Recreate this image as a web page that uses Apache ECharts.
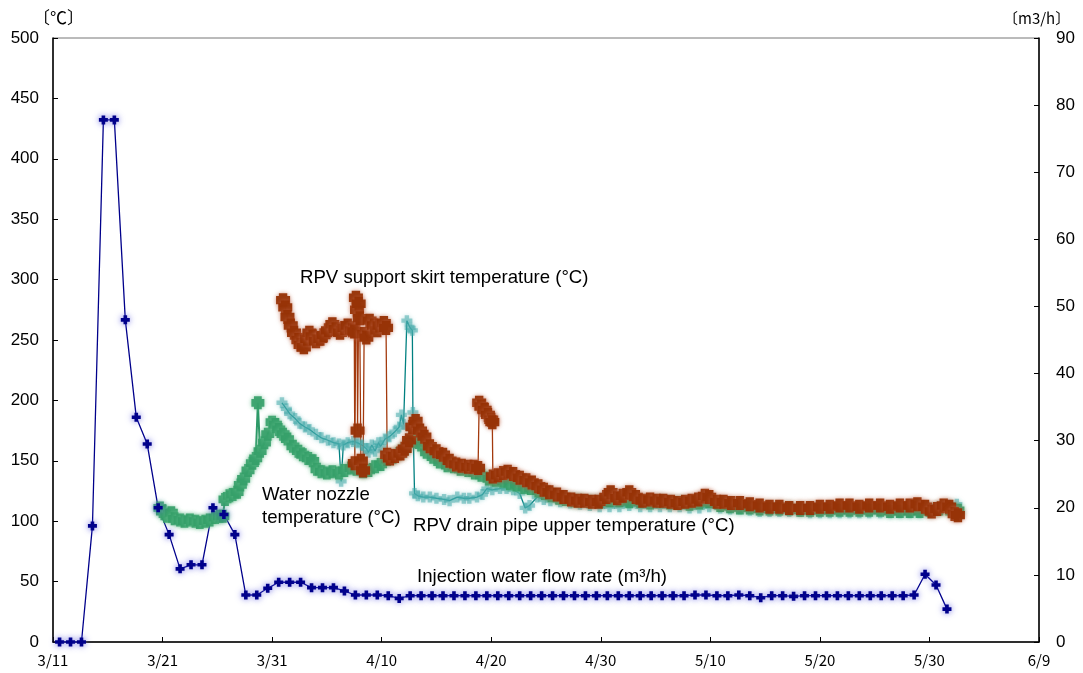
<!DOCTYPE html>
<html>
<head>
<meta charset="utf-8">
<script src="https://cdn.jsdelivr.net/npm/echarts@6/dist/echarts.min.js"></script>
<style>
html,body{margin:0;padding:0;background:#fff;}
#chart{width:1083px;height:673px;}
</style>
</head>
<body>
<div id="chart"></div>
<script>
// x values are days after 3/11 (0 = 3/11)
const xTickLabels = ['3/11','3/21','3/31','4/10','4/20','4/30','5/10','5/20','5/30','6/9'];

// Injection water flow rate (m3/h) - one reading per day
const flowDays = [0.6,1.6,2.6,3.6,4.6,5.6,6.6,7.6,8.6,9.6,10.6,11.6,12.6,13.6,14.6,15.6,16.6,17.6,18.6,19.6,20.6,21.6,22.6,23.6,24.6,25.6,26.6,27.6,28.6,29.6,30.6,31.6,32.6,33.6,34.6,35.6,36.6,37.6,38.6,39.6,40.6,41.6,42.6,43.6,44.6,45.6,46.6,47.6,48.6,49.6,50.6,51.6,52.6,53.6,54.6,55.6,56.6,57.6,58.6,59.6,60.6,61.6,62.6,63.6,64.6,65.6,66.6,67.6,68.6,69.6,70.6,71.6,72.6,73.6,74.6,75.6,76.6,77.6,78.6,79.6,80.6,81.6];
const flowRate = [0,0,0,17.3,77.8,77.8,48.0,33.5,29.5,20.0,16.0,10.9,11.5,11.5,20.0,19.0,16.0,7.0,7.0,8.0,8.9,8.9,8.9,8.1,8.1,8.1,7.6,7.0,7.0,7.0,6.9,6.5,6.9,6.9,6.9,6.9,6.9,6.9,6.9,6.9,6.9,6.9,6.9,6.9,6.9,6.9,6.9,6.9,6.9,6.9,6.9,6.9,6.9,6.9,6.9,6.9,6.9,6.9,7.0,7.0,6.9,6.9,7.0,6.9,6.6,6.9,6.9,6.8,6.9,6.9,6.9,6.9,6.9,6.9,6.9,6.9,6.9,6.9,7.0,10.1,8.5,4.9];

// Water nozzle temperature (°C)
const nozzleDays = [9.76,10.0,10.4,10.8,11.1,11.6,12.0,12.5,13.0,13.4,13.9,14.3,14.8,15.2,15.5,15.7,16.1,16.4,16.8,17.1,17.4,17.8,18.2,18.5,18.7,18.9,19.3,19.6,20.0,20.3,20.6,21.0,21.4,21.9,22.4,22.8,23.3,23.7,24.1,24.5,25.0,25.5,26.1,26.6,27.2,27.7,28.3,28.8,29.4,29.9,30.5,31.0,31.6,32.1,32.7,33.1,33.6,34.1,34.7,35.3,36.0,36.6,37.2,37.9,38.5,39.1,39.8,40.4,41.1,41.7,42.3,43.0,43.6,44.3,44.9,45.5,46.2,46.8,47.6,48.1,49.0,49.9,50.8,51.7,52.6,53.6,54.5,55.4,56.3,57.2,58.1,59.0,59.9,60.9,61.8,62.7,63.6,64.5,65.4,66.3,67.2,68.2,69.1,70.0,70.9,71.8,72.7,73.6,74.5,75.5,76.4,77.3,78.2,79.1,80.0,80.9,81.8,82.6];
const nozzleTemp = [111,108,104,107,102,101,100,101,100,99,100,101,103,104,104,118,121,122,124,130,135,142,148,152,198,158,165,172,182,180,176,172,168,162,158,155,152,150,143,141,140,141,140,142,144,143,141,142,145,147,151,153,156,160,166,170,163,157,153,149,146,145,143,142,140,138,135,134,133,131,130,128,127,125,123,121,119,118,117,117,116,116,117,117,116,116,115,116,115,115,114,115,116,113,112,111,111,110,110,110,110,109,109,109,109,109,109,109,109,109,108,108,108,108,109,110,110,109];

// RPV support skirt temperature (°C)
const skirtDays = [21.0,21.2,21.4,21.7,22.0,22.4,22.6,22.9,23.2,23.4,23.7,24.0,24.4,24.7,25.1,25.5,25.8,26.2,26.6,26.9,27.3,27.5,27.55,27.65,27.75,27.8,27.9,28.0,28.1,28.3,28.4,28.6,28.9,29.3,29.6,29.8,30.2,30.4,30.5,30.75,31.2,31.7,32.1,32.5,32.8,33.1,33.5,33.9,34.4,35.0,35.6,36.2,36.8,37.3,37.9,38.4,38.8,38.9,39.1,39.4,39.7,40.0,40.1,40.15,40.6,41.1,41.5,42.0,42.6,43.2,43.7,44.3,44.8,45.3,46.0,46.6,47.3,47.9,48.5,49.2,49.8,50.5,50.9,51.5,52.0,52.6,53.2,53.8,54.5,55.1,55.7,56.4,57.0,57.7,58.3,58.9,59.5,59.9,60.6,61.2,61.9,62.7,63.6,64.5,65.4,66.3,67.2,68.2,69.1,70.0,70.9,71.8,72.7,73.6,74.5,75.5,76.4,77.3,78.2,78.9,79.6,80.2,80.7,81.3,81.8,82.3,82.6];
const skirtTemp = [283,277,269,262,256,250,246,244,251,256,253,249,251,254,258,263,259,256,260,262,258,257,148,285,275,175,280,268,150,142,255,252,266,262,258,262,264,260,155,152,154,156,160,167,178,183,175,170,162,158,155,150,147,146,145,145,144,198,195,192,188,184,182,137,138,140,141,139,136,134,132,129,126,124,122,120,118,117,117,116,116,120,124,119,121,124,120,117,118,117,117,116,115,116,117,118,121,120,116,116,115,115,114,113,112,112,111,111,111,112,112,113,113,112,113,113,112,113,113,114,112,108,110,113,112,106,105];

// RPV drain pipe upper temperature (°C)
const drainDays = [20.9,21.3,21.6,22.1,22.5,23.0,23.4,24.0,24.5,25.1,25.6,26.1,26.3,26.5,26.9,27.4,27.8,28.2,28.6,28.8,29.1,29.4,29.7,29.9,30.3,30.7,31.2,31.6,31.8,32.0,32.3,32.6,32.8,32.85,33.0,33.3,33.8,34.4,35.0,35.7,36.2,36.9,37.5,38.0,38.7,39.2,39.6,40.1,40.8,41.4,42.0,42.6,43.1,43.5,44.2,44.8,45.4,46.3,47.2,48.1,49.0,49.9,50.8,51.7,52.6,53.6,54.5,55.4,56.3,57.2,58.1,59.0,59.9,60.9,61.8,62.7,63.6,64.5,65.4,66.3,67.2,68.2,69.1,70.0,70.9,71.8,72.7,73.6,74.5,75.5,76.4,77.3,78.2,79.1,80.0,80.9,81.8,82.5];
const drainTemp = [198,193,189,185,181,178,176,172,169,167,165,164,133,163,165,166,165,163,160,157,163,158,165,162,168,170,174,178,188,180,266,260,258,190,123,121,120,120,119,118,117,120,119,119,120,122,127,126,127,127,126,123,111,113,120,118,117,116,115,114,113,112,112,112,113,112,112,112,112,112,111,111,112,111,110,110,109,108,108,108,108,108,107,107,107,107,107,107,107,107,107,107,107,107,108,110,113,114];

function pairs(xs, ys){ return xs.map((x,i)=>[x, ys[i]]); }

const plusPath = 'path://M2,0 L8,0 L8,2 L10,2 L10,8 L8,8 L8,10 L2,10 L2,8 L0,8 L0,2 L2,2 Z';
const thinPlus = 'path://M3,0 L7,0 L7,3 L10,3 L10,7 L7,7 L7,10 L3,10 L3,7 L0,7 L0,3 L3,3 Z';
const sans = 'Liberation Sans, Arial, sans-serif';
const jp = 'Noto Sans CJK JP, sans-serif';

const chart = echarts.init(document.getElementById('chart'), null, {renderer:'canvas'});
chart.setOption({
  animation: false,
  backgroundColor: '#fff',
  grid: {left: 53, right: 44, top: 38, bottom: 31, show: true, borderColor: '#777', borderWidth: 1},
  xAxis: {
    type: 'value', min: 0, max: 90, interval: 10,
    axisLine: {show: true, lineStyle: {color: '#000', width: 1.5}},
    axisTick: {show: true, inside: true, length: 5, lineStyle: {color: '#000'}},
    splitLine: {show: false},
    axisLabel: {
      formatter: v => xTickLabels[Math.round(v/10)] || '',
      fontFamily: jp, fontSize: 15, color: '#000', margin: 11
    }
  },
  yAxis: [
    {
      type: 'value', min: 0, max: 500, interval: 50, position: 'left',
      axisLine: {show: true, lineStyle: {color: '#000', width: 1.5}},
      axisTick: {show: true, inside: true, length: 5, lineStyle: {color: '#000'}},
      splitLine: {show: false},
      axisLabel: {fontFamily: sans, fontSize: 17, color: '#000', margin: 14}
    },
    {
      type: 'value', min: 0, max: 90, interval: 10, position: 'right',
      axisLine: {show: true, lineStyle: {color: '#000', width: 1.5}},
      axisTick: {show: true, inside: true, length: 5, lineStyle: {color: '#000'}},
      splitLine: {show: false},
      axisLabel: {fontFamily: sans, fontSize: 17, color: '#000', margin: 17}
    }
  ],
  series: [
    {
      name: 'RPV drain pipe upper temperature', type: 'line', yAxisIndex: 0,
      data: pairs(drainDays, drainTemp),
      symbol: thinPlus, symbolSize: 11,
      lineStyle: {color: '#008080', width: 1.3},
      itemStyle: {color: 'rgba(60,165,165,0.5)', shadowBlur: 4, shadowColor: 'rgba(110,190,190,0.8)'}
    },
    {
      name: 'Water nozzle temperature', type: 'line', yAxisIndex: 0,
      data: pairs(nozzleDays, nozzleTemp),
      symbol: plusPath, symbolSize: 13,
      lineStyle: {color: '#2e9a68', width: 2},
      itemStyle: {color: 'rgba(52,158,104,0.9)', shadowBlur: 4, shadowColor: 'rgba(100,190,140,0.8)'}
    },
    {
      name: 'RPV support skirt temperature', type: 'line', yAxisIndex: 0,
      data: pairs(skirtDays, skirtTemp),
      symbol: plusPath, symbolSize: 14,
      lineStyle: {color: '#a33a0e', width: 1.3},
      itemStyle: {color: 'rgba(150,50,5,0.95)', shadowBlur: 4, shadowColor: 'rgba(190,100,70,0.7)'}
    },
    {
      name: 'Injection water flow rate', type: 'line', yAxisIndex: 1,
      data: pairs(flowDays, flowRate),
      symbol: thinPlus, symbolSize: 9,
      lineStyle: {color: '#00008b', width: 1.3},
      itemStyle: {color: '#00008b', shadowBlur: 6, shadowColor: 'rgba(80,80,220,0.8)'}
    }
  ],
  graphic: [
    {type:'text', left: 33, top: 9, style:{text:'〔℃〕', font: '17px ' + jp, fill:'#000'}},
    {type:'text', left: 1003, top: 11, style:{text:'〔m3/h〕', font: '15px ' + jp, fill:'#000'}},
    {type:'text', left: 300, top: 268, style:{text:'RPV support skirt temperature (°C)', font: '18.6px ' + sans, fill:'#000'}},
    {type:'text', left: 262, top: 483, style:{text:'Water nozzle\ntemperature (°C)', font: '18.6px ' + sans, fill:'#000', lineHeight: 23}},
    {type:'text', left: 413, top: 516, style:{text:'RPV drain pipe upper temperature (°C)', font: '18.6px ' + sans, fill:'#000'}},
    {type:'text', left: 417, top: 567, style:{text:'Injection water flow rate (m³/h)', font: '18.6px ' + sans, fill:'#000'}}
  ]
});
</script>
</body>
</html>
